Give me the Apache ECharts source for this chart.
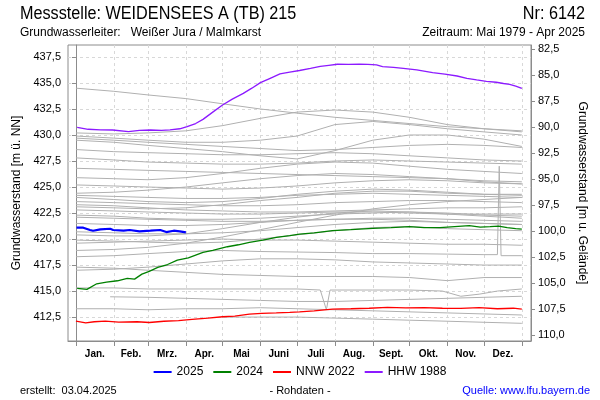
<!DOCTYPE html>
<html><head><meta charset="utf-8">
<script src="https://cdn.jsdelivr.net/npm/echarts@6/dist/echarts.min.js"></script>
<style>html,body{margin:0;padding:0;background:#fff}#c{width:600px;height:400px}</style>
</head><body><div id="c"></div>
<script>
const monthNames = ['Jan.','Feb.','Mrz.','Apr.','Mai','Juni','Juli','Aug.','Sept.','Okt.','Nov.','Dez.'];
const monthStartDays = [0,31,59,90,120,151,181,212,243,273,304,334,365];
const monthMidDays = [15.5,45,74.5,105,135.5,166,196.5,227.5,258,288.5,319,349.5];
const leftTicks = [412.5,415,417.5,420,422.5,425,427.5,430,432.5,435,437.5];
const rightTicks = [82.5,85,87.5,90,92.5,95,97.5,100,102.5,105,107.5,110];

const days2025 = [0.5,6,11.5,14,20,28,30.5,39,44,52,61,69,74,80,85,90];
const values2025 = [421.09,421.09,420.87,420.80,420.93,420.99,420.87,420.80,420.87,420.74,420.80,420.87,420.67,420.80,420.74,420.64];

const days2024 = [1,9,17,25,34,42,48,54,60,67,75,83,92,104,112,124,133,142,153,164,175,183,195,210,225,243,258,273,285,298,310,322,331,339,346,353,360,365];
const values2024 = [415.26,415.16,415.70,415.85,415.99,416.22,416.15,416.63,416.90,417.28,417.55,417.98,418.20,418.72,418.90,419.26,419.45,419.68,419.90,420.16,420.32,420.48,420.60,420.80,420.90,421.03,421.10,421.19,421.10,421.09,421.20,421.28,421.15,421.19,421.25,421.09,421.00,420.96];

const daysNNW2022 = [0,8,15,24,35,50,60,72,84,95,108,120,130,142,152,164,175,183,195,210,225,240,255,270,285,300,315,330,345,358,365];
const valuesNNW2022 = [412.12,411.95,412.05,412.12,412.02,412.05,411.98,412.10,412.15,412.28,412.40,412.53,412.60,412.79,412.85,412.90,412.95,413.00,413.10,413.27,413.30,413.35,413.43,413.38,413.40,413.35,413.34,413.40,413.30,413.35,413.27];

const daysHHW1988 = [1,10,20,30,43,52,61,70,77,85,91,98,104,112,120,128,137,144,151,159,167,175,183,192,200,207,214,223,232,239,246,251,260,268,279,292,302,312,320,328,336,344,350,355,360,365];
const valuesHHW1988 = [430.74,430.55,430.50,430.48,430.32,430.45,430.48,430.45,430.50,430.60,430.80,431.10,431.50,432.20,432.88,433.45,434.00,434.50,435.03,435.45,435.87,436.05,436.20,436.40,436.60,436.70,436.80,436.78,436.80,436.78,436.73,436.57,436.50,436.41,436.25,435.99,435.85,435.67,435.45,435.29,435.15,435.07,434.95,434.87,434.70,434.49];

// grey lines: all other years, values at monthStartDays
const greyYears = [
  [434.5,434.2,433.85,433.5,433.0,432.5,432.1,431.7,431.4,431.1,430.8,430.6,430.4],
  [430.2,430.1,430.2,430.4,430.9,431.6,432.2,432.4,432.2,431.7,431.0,430.6,430.3],
  [429.9,429.7,429.5,429.3,429.3,429.5,429.9,431.0,431.3,431.0,430.6,430.3,430.0],
  [429.7,429.5,429.3,429.1,428.9,428.7,428.5,428.6,428.8,429.0,429.1,429.0,428.8],
  [429.5,429.3,429.0,428.7,428.4,428.0,427.7,428.5,429.5,430.0,430.0,429.6,428.9],
  [428.6,428.4,428.3,428.2,428.1,428.1,428.2,428.3,428.2,428.0,427.8,427.6,427.5],
  [427.8,427.6,427.4,427.3,427.2,427.2,427.3,427.5,427.6,427.5,427.4,427.3,427.2],
  [426.8,426.7,426.6,426.5,426.4,426.3,426.2,426.1,426.0,425.9,425.8,425.6,425.5],
  [425.9,425.8,425.7,425.9,426.3,426.8,427.2,427.4,427.3,427.0,426.7,426.5,426.3],
  [425.2,425.1,425.0,424.9,424.8,424.9,425.1,425.4,425.6,425.7,425.6,425.4,425.3],
  [424.4,424.5,424.7,425.0,425.4,425.8,426.1,426.3,426.2,426.0,425.8,425.5,425.3],
  [424.2,424.1,424.0,423.9,423.9,424.0,424.2,424.3,424.4,424.3,424.2,424.1,424.0],
  [424.0,423.8,423.6,423.5,423.6,423.9,424.3,424.6,424.8,424.7,424.5,424.3,424.2],
  [423.6,423.5,423.4,423.3,423.2,423.2,423.3,423.5,423.6,423.7,423.7,423.6,423.5],
  [423.3,423.2,423.0,422.8,422.7,422.6,422.6,422.7,422.8,422.9,423.0,423.0,423.1],
  [423.1,423.0,422.9,423.0,423.3,423.7,424.0,424.4,424.6,424.6,424.4,424.3,424.3],
  [422.8,422.7,422.6,422.5,422.4,422.4,422.5,422.6,422.6,422.5,422.4,422.4,422.4],
  [422.3,422.2,422.0,421.9,421.9,422.0,422.2,422.4,422.5,422.6,422.5,422.3,422.2],
  [422.1,422.0,421.9,421.8,421.7,421.7,421.8,421.9,422.0,422.0,421.9,421.8,421.7],
  [421.5,421.4,421.3,421.3,421.4,421.6,421.8,421.9,421.9,421.8,421.6,421.5,421.4],
  [420.7,420.6,420.5,420.5,420.6,420.8,421.1,421.4,421.6,421.7,421.6,421.5,421.4],
  [420.4,420.3,420.3,420.5,421.0,421.6,422.1,422.5,422.7,422.6,422.4,422.2,422.0],
  [419.9,419.8,419.7,419.6,419.7,420.0,420.4,420.8,421.1,421.2,421.0,420.9,420.8],
  [418.9,419.0,419.2,419.6,420.2,420.9,421.6,422.3,422.9,423.3,423.6,423.8,424.0],
  [419.6,419.7,419.8,419.9,420.0,419.9,419.9,419.8,419.7,419.6,419.5,419.5,419.4],
  [417.0,417.1,417.3,417.6,417.9,418.1,418.1,418.0,417.8,417.7,417.6,417.5,417.5],
  [417.3,417.2,417.0,416.8,416.6,416.5,416.4,416.4,416.4,416.3,416.0,416.3,416.3],
  [413.3,413.3,413.2,413.3,413.3,413.4,413.3,413.2,413.1,413.0,412.9,412.8,412.7]
];
// grey years with special shapes (own day axes)
const greyDaysSpike = [0,31,59,90,120,151,181,212,243,273,304,334,345,346.5,348,365];
const greyValuesSpike = [418.3,418.4,418.6,418.8,418.9,418.8,418.75,418.7,418.6,418.6,418.55,418.5,418.5,427.0,418.4,418.4];
const greyDaysDip = [0,31,59,90,120,151,181,200,205,208,243,273,300,315,330,345,365];
const greyValuesDip = [415.3,415.3,415.2,415.2,415.2,415.2,415.2,415.1,413.2,415.1,415.1,415.1,415.0,414.5,414.7,415.0,415.2];
const greyDaysFeb = [28,59,90,120,151,181,212,243,273,304,334,365];
const greyValuesFeb = [414.45,414.4,414.3,414.2,414.1,414.0,414.0,414.1,414.2,414.3,414.4,414.5];
const greyDaysMay = [120,151,181,212,243,273,304,334,365];
const greyValuesMay = [412.5,412.5,412.5,412.4,412.3,412.2,412.1,412.0,411.9];

const fmt = v => v.toFixed(1).replace('.', ',');
const grey = '#b0b0b0';
const series = [];
greyYears.forEach(vals => {
  series.push({type:'line', data: vals.map((v,i)=>[monthStartDays[i], v]), symbol:'none', silent:true,
    lineStyle:{color:grey, width:1}, z:1});
});
[[greyDaysSpike,greyValuesSpike],[greyDaysDip,greyValuesDip],[greyDaysFeb,greyValuesFeb],[greyDaysMay,greyValuesMay]].forEach(([d,v]) => {
  series.push({type:'line', data: v.map((y,i)=>[d[i], y]), symbol:'none', silent:true,
    lineStyle:{color:grey, width:1}, z:1});
});
function named(name, d, v, color, width, z) {
  return {name, type:'line', data: v.map((y,i)=>[d[i], y]), symbol:'none', lineStyle:{color, width}, itemStyle:{color}, z};
}
series.push(named('HHW 1988', daysHHW1988, valuesHHW1988, '#8c1aff', 1.3, 5));
series.push(named('NNW 2022', daysNNW2022, valuesNNW2022, '#ff0000', 1.3, 6));
series.push(named('2024', days2024, values2024, '#008000', 1.3, 7));
series.push(named('2025', days2025, values2025, '#0000ff', 2.2, 8));

const chart = echarts.init(document.getElementById('c'), null, {renderer:'canvas'});
const font = 'Liberation Sans, Arial, sans-serif';
chart.setOption({
  animation:false,
  textStyle:{fontFamily:font},
  grid:{left:68, right:69, top:45, bottom:59, show:true, borderColor:'#8c8c8c', borderWidth:1},
  legend:{data:['2025','2024','NNW 2022','HHW 1988'], bottom:17, left:'center', itemWidth:18, itemHeight:2, itemGap:10,
    icon:'rect', textStyle:{fontSize:12, color:'#000', fontFamily:font}},
  xAxis:{type:'value', min:-6.5, max:372.5,
    axisLine:{show:true, lineStyle:{color:'#8c8c8c'}},
    axisTick:{show:true, customValues:monthStartDays, length:5, lineStyle:{color:'#8c8c8c'}},
    splitLine:{show:true, lineStyle:{color:'#d8d8d8', type:[3,3]}},
    axisLabel:{customValues:monthMidDays, formatter:v => monthNames[monthMidDays.indexOf(v)] || '', fontSize:10, fontWeight:'bold', color:'#000', margin:8}
  },
  yAxis:[
    {type:'value', position:'left', min:410.2, max:438.65,
      name:'Grundwasserstand [m ü. NN]', nameLocation:'middle', nameGap:37, nameTextStyle:{fontSize:12, color:'#000'},
      axisLine:{show:true, lineStyle:{color:'#8c8c8c'}},
      axisTick:{show:true, customValues:leftTicks, length:4, lineStyle:{color:'#8c8c8c'}},
      splitLine:{show:true, lineStyle:{color:'#d8d8d8', type:[3,3]}},
      axisLabel:{customValues:leftTicks, formatter:fmt, fontSize:11, color:'#000', margin:7}
    },
    {type:'value', position:'right', min:82.1, max:110.55, inverse:true,
      name:'Grundwasserstand [m u. Gelände]', nameLocation:'middle', nameGap:45, nameRotate:-90, nameTextStyle:{fontSize:12, color:'#000'},
      axisLine:{show:true, lineStyle:{color:'#8c8c8c'}},
      axisTick:{show:true, customValues:rightTicks, length:4, lineStyle:{color:'#8c8c8c'}},
      splitLine:{show:false},
      axisLabel:{customValues:rightTicks, formatter:fmt, fontSize:11, color:'#000', margin:7}
    }
  ],
  graphic:[
    {type:'text', left:20, top:5, scaleX:0.9, style:{text:'Messstelle: WEIDENSEES A (TB) 215', font:'18px '+font, fill:'#000'}},
    {type:'text', right:15, top:5, scaleX:0.9, style:{text:'Nr: 6142', font:'18px '+font, fill:'#000'}},
    {type:'text', left:20, top:27, style:{text:'Grundwasserleiter:   Weißer Jura / Malmkarst', font:'12px '+font, fill:'#000'}},
    {type:'text', right:15, top:27, style:{text:'Zeitraum: Mai 1979 - Apr 2025', font:'12px '+font, fill:'#000'}},
    {type:'text', left:20, top:385, style:{text:'erstellt:  03.04.2025', font:'11px '+font, fill:'#000'}},
    {type:'text', left:'center', top:385, style:{text:'- Rohdaten -', font:'11px '+font, fill:'#000'}},
    {type:'text', right:10, top:385, style:{text:'Quelle: www.lfu.bayern.de', font:'11px '+font, fill:'#0000ff'}}
  ],
  series
});
</script></body></html>
